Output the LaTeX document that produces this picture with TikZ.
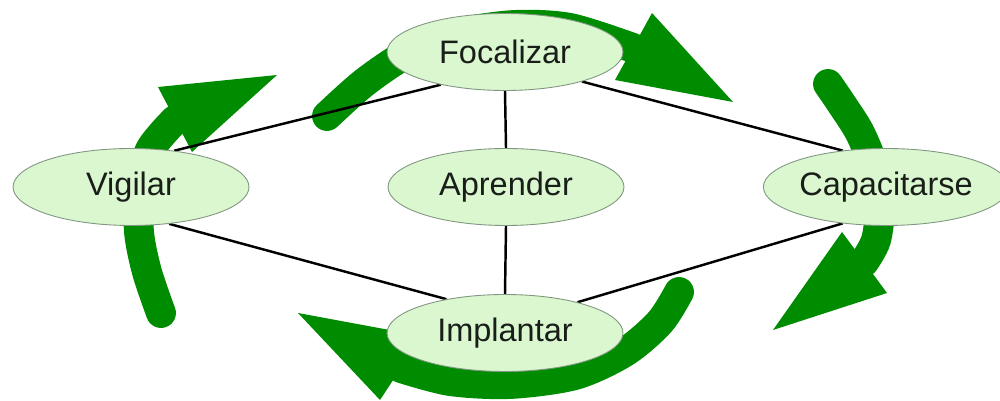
\documentclass[tikz,border=0pt]{standalone}
\usepackage{fontspec}
\setmainfont{Liberation Sans}
\usetikzlibrary{shapes.geometric}
\pgfdeclarelayer{arrowlayer}
\pgfdeclarelayer{linklayer}
\pgfsetlayers{arrowlayer,linklayer,main}
\definecolor{cycgreen}{RGB}{0,140,0}
\definecolor{nodefill}{RGB}{218,247,208}
\definecolor{nodeedge}{RGB}{128,150,128}
\definecolor{txt}{RGB}{25,30,25}
\tikzset{
  phase/.style={ellipse, draw=nodeedge, line width=0.5pt, fill=nodefill, inner sep=0pt,
    minimum width=4.72cm, minimum height=1.54cm, text=txt,
    font=\fontsize{18.5}{22}\selectfont},
  link/.style={line width=1.4pt, draw=black},
  shaft/.style={draw=cycgreen, line width=17pt, line cap=round},
  bighead/.style={fill=cycgreen},
}
\begin{document}
\begin{tikzpicture}[x=0.02cm,y=-0.02cm]
\useasboundingbox (0,0) rectangle (1000,401);
\node[phase] (foc) at (505,52) {Focalizar};
\node[phase] (vig) at (131,187) {Vigilar};
\node[phase] (apr) at (506,187) {Aprender};
\node[phase, minimum width=4.56cm] (cap) at (886,187) {Capacitarse};
\node[phase] (imp) at (505,333) {Implantar};

\begin{pgfonlayer}{arrowlayer}
  % top arrow
  \draw[shaft] plot[smooth] coordinates {(327,116) (365,82) (410,52) (460,33) (515,25) (570,28) (633,48)};
  \fill[bighead] (652,13) -- (733,102) -- (615,80) -- cycle;
  % right arrow
  \draw[shaft] plot[smooth] coordinates {(828,84) (843,106) (860,133) (874,168) (880,205) (876,240) (864,262)};
  \fill[bighead] (842,232) -- (887,293) -- (773,330) -- cycle;
  % bottom arrow
  \draw[shaft] plot[smooth] coordinates {(679,292) (660,322) (625,352) (575,375) (510,384) (450,381) (401,368)};
  \fill[bighead] (422,336) -- (380,400) -- (298,313) -- cycle;
  % left arrow
  \draw[shaft] plot[smooth] coordinates {(161,313) (147,272) (139,232) (140,190) (150,150) (175,120)};
  \fill[bighead] (158,87) -- (277,75) -- (192,152) -- cycle;
\end{pgfonlayer}

\begin{pgfonlayer}{linklayer}
  \draw[link] (foc.207) -- (vig.40);
  \draw[link] (foc.south) -- (apr.north);
  \draw[link] (foc.339) -- (cap.140);
  \draw[link] (vig.316) -- (imp.150);
  \draw[link] (apr.south) -- (imp.north);
  \draw[link] (cap.220) -- (imp.23);
\end{pgfonlayer}
\end{tikzpicture}
\end{document}
